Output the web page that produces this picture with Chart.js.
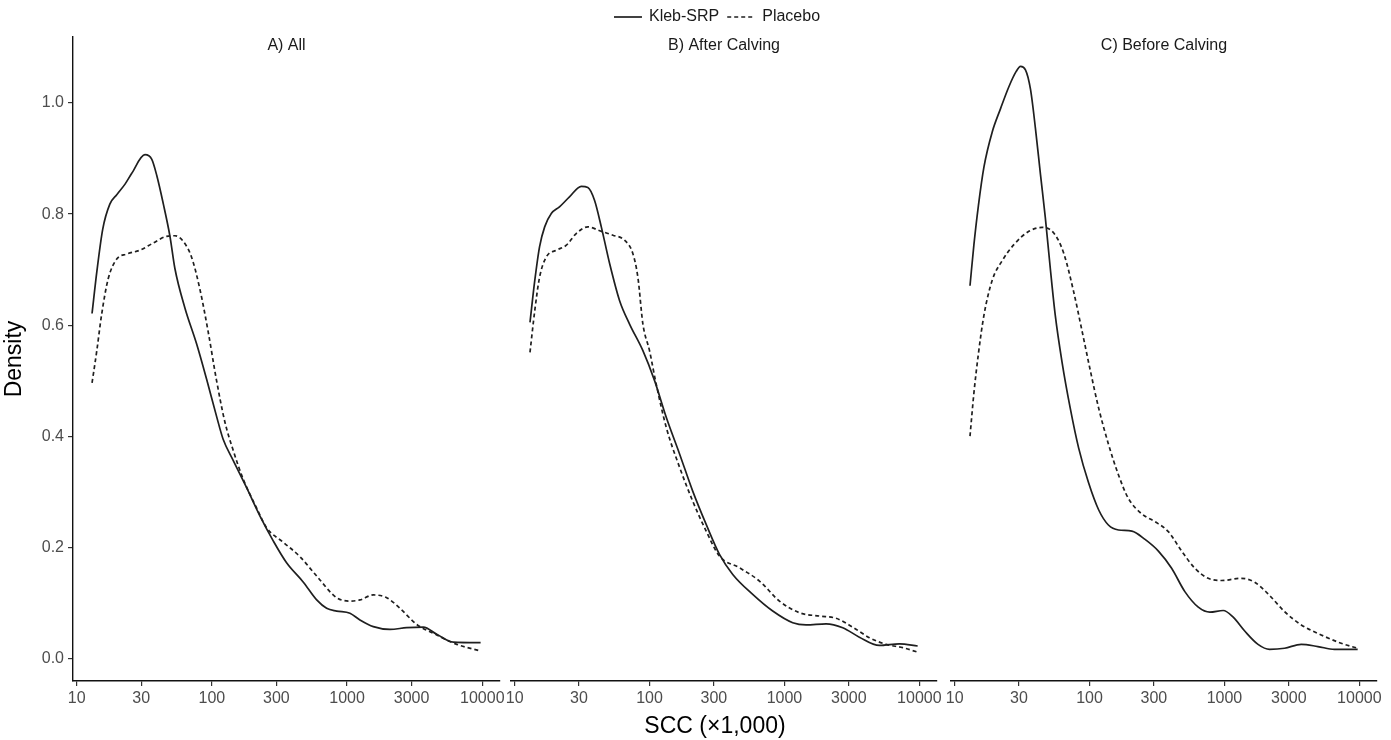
<!DOCTYPE html>
<html>
<head>
<meta charset="utf-8">
<script src="https://cdn.jsdelivr.net/npm/chart.js@4.4.1/dist/chart.umd.min.js"></script>
<style>
html,body{margin:0;padding:0;background:#ffffff;width:1391px;height:740px;overflow:hidden;}
canvas{position:absolute;left:0;top:0;}
</style>
</head>
<body>
<canvas id="cA" width="1391" height="740"></canvas>
<canvas id="cB" width="1391" height="740"></canvas>
<canvas id="cC" width="1391" height="740"></canvas>
<script>
// ---------- data ----------
const seriesNames = ['Kleb-SRP', 'Placebo'];
const panelTitles = ['A) All', 'B) After Calving', 'C) Before Calving'];
const xAxisTitle = 'SCC (×1,000)';
const yAxisTitle = 'Density';
const xTickValues = [10, 30, 100, 300, 1000, 3000, 10000];
const xTickLabels = ['10', '30', '100', '300', '1000', '3000', '10000'];
const yTickValues = [0, 0.2, 0.4, 0.6, 0.8, 1.0];

// A) All
const allKlebX = [13.0,14.1,15.6,17.6,19.8,22.8,25.5,32.0,35.9,39.1,43.8,49.0,53.3,63.2,77.2,91.6,108,121,144,180,227,285,357,475,596,706,838,1050,1245,1563,2076,2760,3664,4605,6110,9720];
const allKlebY = [0.621,0.696,0.773,0.818,0.835,0.854,0.873,0.907,0.899,0.870,0.818,0.760,0.702,0.631,0.566,0.502,0.437,0.395,0.356,0.308,0.256,0.211,0.172,0.137,0.105,0.090,0.085,0.081,0.069,0.057,0.052,0.055,0.056,0.043,0.029,0.028];
const allPlacX = [13.0,14.1,15.3,17.1,19.8,23.4,29.4,36.9,46.3,53.3,61.4,70.9,81.7,94.1,108,125,144,171,214,254,337,448,596,838,1050,1245,1563,1963,2461,3270,4605,6470,9720];
const allPlacY = [0.496,0.554,0.619,0.683,0.719,0.728,0.735,0.748,0.760,0.761,0.751,0.722,0.664,0.587,0.502,0.425,0.374,0.322,0.271,0.235,0.209,0.183,0.148,0.109,0.103,0.105,0.114,0.109,0.090,0.061,0.042,0.025,0.013];

// B) After Calving
const afterKlebX = [13.0,14.1,15.3,16.7,18.7,21.5,25.5,31.2,34.9,39.1,43.9,50.6,60.0,71.1,89.3,109,133,167,209,263,330,414,582,819,1152,1446,2036,2705,3593,5058,7117,9720];
const afterKlebY = [0.605,0.680,0.741,0.777,0.801,0.813,0.831,0.850,0.848,0.825,0.777,0.711,0.644,0.602,0.554,0.500,0.434,0.368,0.301,0.241,0.187,0.151,0.115,0.085,0.064,0.060,0.062,0.055,0.038,0.023,0.026,0.022];
const afterPlacX = [13.0,14.1,15.3,17.2,20.4,24.2,28.6,34.9,42.7,53.5,65.3,75.2,82.0,89.3,100,112,133,167,209,263,330,464,653,918,1291,1815,2415,3208,4262,5666,7530,9720];
const afterPlacY = [0.551,0.626,0.686,0.723,0.735,0.744,0.765,0.777,0.770,0.762,0.753,0.729,0.686,0.602,0.554,0.494,0.416,0.344,0.283,0.229,0.184,0.163,0.139,0.103,0.082,0.076,0.072,0.056,0.037,0.025,0.019,0.011];

// C) Before Calving
const beforeKlebX = [13.0,13.9,15.0,16.5,19.0,21.9,25.2,28.6,30.8,33.5,36.5,39.7,43.3,47.0,51.2,55.7,62.5,72.0,83.0,98.4,117,138,164,206,258,324,406,509,640,780,979,1161,1414,1774,2162,2792,3710,4929,6535,9720];
const beforeKlebY = [0.671,0.745,0.815,0.885,0.948,0.990,1.029,1.057,1.066,1.060,1.025,0.955,0.871,0.794,0.702,0.618,0.534,0.450,0.379,0.316,0.267,0.240,0.231,0.229,0.214,0.193,0.162,0.120,0.092,0.083,0.086,0.074,0.049,0.025,0.016,0.018,0.025,0.021,0.016,0.016];
const beforePlacX = [13.0,13.9,15.0,16.5,19.0,22.5,27.5,35.5,44.5,54.3,64.3,76.3,87.9,101,117,138,164,194,244,306,384,482,604,759,951,1337,1677,2105,2792,3710,5212,7328,9720];
const beforePlacY = [0.400,0.478,0.548,0.618,0.681,0.716,0.745,0.769,0.776,0.766,0.730,0.660,0.590,0.520,0.450,0.386,0.330,0.288,0.260,0.246,0.228,0.193,0.162,0.144,0.140,0.144,0.137,0.116,0.084,0.060,0.042,0.027,0.018];

// ---------- rendering ----------
const FONT = '"Liberation Sans", Arial, Helvetica, sans-serif';
Chart.defaults.font.family = FONT;
const LINE_COLOR = '#1f1f1f';

function pts(xs, ys) { return xs.map((x, i) => ({x: x, y: ys[i]})); }

const stripPlugin = {
  id: 'strip',
  afterDraw(chart, args, opts) {
    if (!opts || !opts.text) return;
    const {ctx, chartArea} = chart;
    ctx.save();
    ctx.font = '16px ' + FONT;
    ctx.fillStyle = '#1a1a1a';
    ctx.textAlign = 'center';
    ctx.textBaseline = 'middle';
    ctx.fillText(opts.text, (chartArea.left + chartArea.right) / 2, chartArea.top + 9);
    ctx.restore();
  }
};

const figurePlugin = {
  id: 'figure',
  afterDraw(chart, args, opts) {
    if (!opts || !opts.show) return;
    const ctx = chart.ctx;
    ctx.save();
    // shared x-axis title
    ctx.font = '23px ' + FONT;
    ctx.fillStyle = '#000';
    ctx.textAlign = 'center';
    ctx.textBaseline = 'middle';
    ctx.fillText(opts.xTitle, 715, 727);
    // legend
    ctx.font = '16px ' + FONT;
    const keyW = 28, gapKT = 7, gapItems = 8;
    const items = chart.data.datasets.map(d => ({label: d.label, dash: d.borderDash || [], color: d.borderColor, w: ctx.measureText(d.label).width}));
    let total = 0;
    items.forEach((it, i) => { total += keyW + gapKT + it.w + (i < items.length - 1 ? gapItems : 0); });
    let x = 717 - total / 2;
    const y = 17;
    items.forEach(it => {
      ctx.beginPath();
      ctx.setLineDash(it.dash);
      ctx.strokeStyle = it.color;
      ctx.lineWidth = 1.7;
      ctx.moveTo(x, y);
      ctx.lineTo(x + keyW, y);
      ctx.stroke();
      ctx.setLineDash([]);
      x += keyW + gapKT;
      ctx.fillStyle = '#1a1a1a';
      ctx.textAlign = 'left';
      ctx.fillText(it.label, x, y);
      x += it.w + gapItems;
    });
    ctx.restore();
  }
};

function makePanel(id, title, kx, ky, px, py, padL, padR, showY, showFigure) {
  new Chart(document.getElementById(id), {
    type: 'line',
    data: {
      datasets: [
        {label: seriesNames[0], data: pts(kx, ky), borderColor: LINE_COLOR, borderWidth: 1.7, borderDash: [], pointRadius: 0, fill: false, cubicInterpolationMode: 'monotone'},
        {label: seriesNames[1], data: pts(px, py), borderColor: LINE_COLOR, borderWidth: 1.7, borderDash: [4, 3], pointRadius: 0, fill: false, cubicInterpolationMode: 'monotone'}
      ]
    },
    options: {
      responsive: false,
      animation: false,
      events: [],
      layout: {padding: {left: padL, right: padR, top: 37, bottom: 0}},
      plugins: {
        legend: {display: false},
        tooltip: {enabled: false},
        strip: {text: title},
        figure: {show: showFigure, xTitle: xAxisTitle}
      },
      scales: {
        x: {
          type: 'logarithmic',
          min: 9.4,
          max: 13520,
          afterBuildTicks: s => { s.ticks = xTickValues.map(v => ({value: v})); },
          afterFit: s => { s.height = 59; },
          grid: {drawOnChartArea: false, drawTicks: true, tickLength: 5, color: '#333', lineWidth: 1.2},
          border: {display: true, color: '#111', width: 1.4},
          ticks: {autoSkip: false, maxRotation: 0, minRotation: 0, padding: 3, color: '#4d4d4d', font: {size: 16},
                  callback: (v, i) => xTickLabels[i]}
        },
        y: {
          type: 'linear',
          display: showY,
          min: -0.041,
          max: 1.119,
          afterBuildTicks: s => { s.ticks = yTickValues.map(v => ({value: v})); },
          afterFit: s => { if (showY) s.width = 73; },
          grid: {drawOnChartArea: false, drawTicks: true, tickLength: 5, color: '#333', lineWidth: 1.2},
          border: {display: true, color: '#111', width: 1.4},
          ticks: {padding: 4, color: '#4d4d4d', font: {size: 16}, callback: v => Number(v).toFixed(1)},
          title: {display: true, text: yAxisTitle, color: '#000', font: {size: 23}, padding: {top: 1, bottom: 0}}
        }
      }
    },
    plugins: [stripPlugin, figurePlugin]
  });
}

makePanel('cA', panelTitles[0], allKlebX, allKlebY, allPlacX, allPlacY, 0, 891, true, false);
makePanel('cB', panelTitles[1], afterKlebX, afterKlebY, afterPlacX, afterPlacY, 511, 454, false, true);
makePanel('cC', panelTitles[2], beforeKlebX, beforeKlebY, beforePlacX, beforePlacY, 951, 14, false, false);
</script>
</body>
</html>
